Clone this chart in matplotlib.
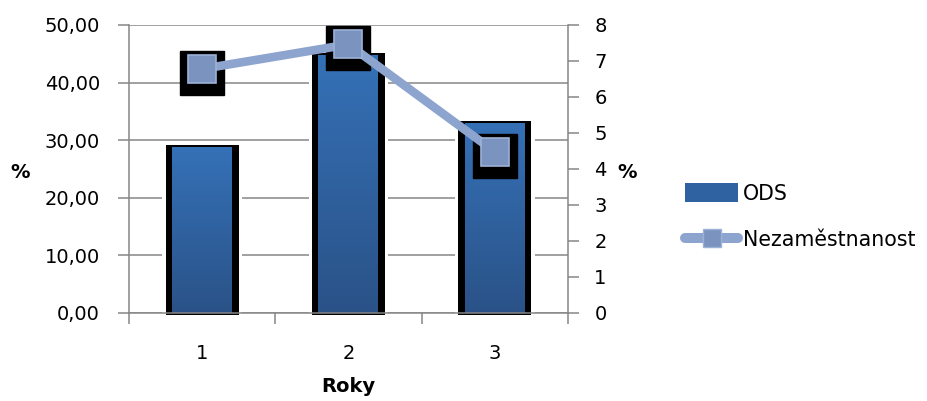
import numpy as np
import matplotlib
matplotlib.use("Agg")
import matplotlib.pyplot as plt
from matplotlib.lines import Line2D
from matplotlib.patches import Patch
import matplotlib.transforms as mtransforms

plt.rcParams['font.family'] = ['DejaVu Sans']

categories = ["1", "2", "3"]
ods = [28.8, 44.8, 33.0]
nezam = [6.78, 7.46, 4.48]
left_ticks = [0, 10, 20, 30, 40, 50]
right_ticks = [0, 1, 2, 3, 4, 5, 6, 7, 8]

GRAY = "#868686"
FS = 14

fig = plt.figure(figsize=(9.28, 4.01), dpi=100)
ax = fig.add_axes([0.139, 0.2195, 0.473, 0.7182])
x = np.arange(1, len(categories) + 1)

ax.set_ylim(0, 50)
ax.set_xlim(0.5, len(categories) + 0.5)
ax.set_yticks(left_ticks)
ax.set_yticklabels([f"{v:.2f}".replace('.', ',') for v in left_ticks])
ax.yaxis.grid(True, color=GRAY, lw=1.1, zorder=0)
ax.set_axisbelow(True)

# white halo + black glow behind bars
ax.bar(x, [v + 0.6 for v in ods], width=0.545, bottom=-0.4, color="white",
       linewidth=0, zorder=0.8, clip_on=False)
ax.bar(x, [v + 0.7 for v in ods], width=0.50, bottom=-0.4, color="black",
       linewidth=0, zorder=1, clip_on=False)
# gradient bars
bars = ax.bar(x, ods, width=0.41, color="#2F62A0", zorder=2)
grad = np.linspace(0, 1, 256).reshape(-1, 1)
cmap = matplotlib.colors.LinearSegmentedColormap.from_list("g", ["#2A5287", "#3571B7"])
for b in bars:
    x0, w, h = b.get_x(), b.get_width(), b.get_height()
    im = ax.imshow(grad, cmap=cmap, origin="lower", aspect="auto",
                   extent=[x0, x0 + w, 0, h], zorder=2.5)
    im.set_clip_path(b)
ax.set_xlim(0.5, len(categories) + 0.5)
ax.set_ylim(0, 50)

ax.set_xticks(np.arange(0.5, len(categories) + 1, 1.0))
ax.set_xticklabels([])
ax.set_xticks(x, minor=True)
ax.set_xticklabels(categories, minor=True, fontsize=FS)
ax.tick_params(axis='x', which='major', length=8, color=GRAY, width=1.1)
ax.tick_params(axis='x', which='minor', length=0, pad=22)
ax.tick_params(axis='y', length=8, color=GRAY, width=1.1, labelsize=FS, pad=13)
for s in ['left', 'bottom']:
    ax.spines[s].set_color(GRAY)
    ax.spines[s].set_linewidth(1.1)
for s in ['top', 'right']:
    ax.spines[s].set_visible(False)

ax2 = ax.twinx()
ax2.set_ylim(0, 8)
ax2.set_yticks(right_ticks)
ax2.tick_params(axis='y', length=8, color=GRAY, width=1.1, labelsize=FS, pad=11)
for s in ['left', 'bottom', 'top']:
    ax2.spines[s].set_visible(False)
ax2.spines['right'].set_color(GRAY)
ax2.spines['right'].set_linewidth(1.1)

off = mtransforms.offset_copy(ax2.transData, fig=fig, x=0, y=-4, units='dots')
ax2.plot(x, nezam, linestyle='none', marker='s', markersize=31.5,
         color='black', transform=off, zorder=1, clip_on=False)
ax2.plot(x, nezam, color="#8DA5CE", lw=6.2, zorder=2, solid_capstyle='butt', clip_on=False)
ax2.plot(x, nezam, linestyle='none', marker='s', markersize=19.5,
         markerfacecolor="#7A93BF", markeredgecolor="#9CB2D8", markeredgewidth=1.2,
         zorder=3, clip_on=False)

fig.text(0.022, 0.571, "%", fontsize=FS, fontweight='bold', ha='center', va='center')
fig.text(0.676, 0.569, "%", fontsize=FS, fontweight='bold', ha='center', va='center')
fig.text(0.3755, 0.035, "Roky", fontsize=FS, fontweight='bold', ha='center', va='center')

handles = [Patch(facecolor="#2F62A0", edgecolor="none"),
           Line2D([0], [0], color="#8DA5CE", lw=7.2, marker='s', markersize=13,
                  markerfacecolor="#7A93BF", markeredgecolor="#9CB2D8",
                  solid_capstyle='round')]
fig.legend(handles, ["ODS", "Nezaměstnanost"], loc='center left',
           bbox_to_anchor=(0.718, 0.46), frameon=False, fontsize=14.8,
           handlelength=2.6, handleheight=1.0, handletextpad=0.22, labelspacing=1.25)

fig.savefig("out.png", dpi=100)
